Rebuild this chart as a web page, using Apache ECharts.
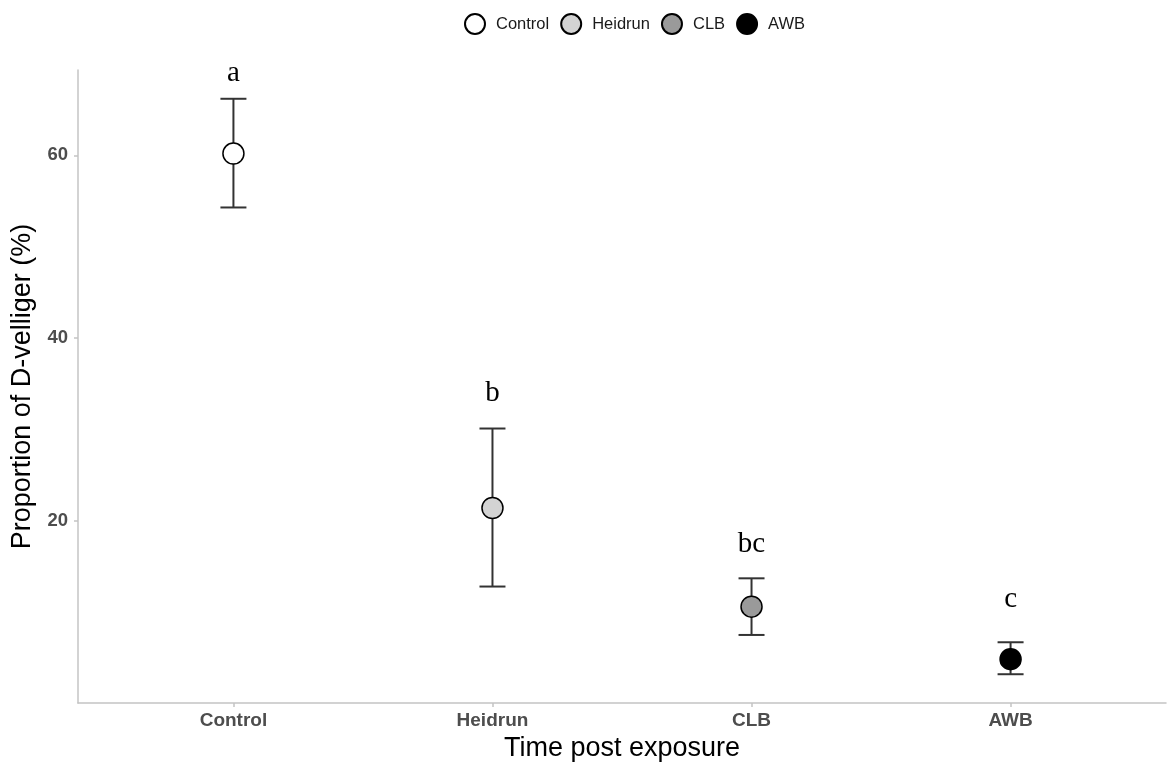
<!DOCTYPE html>
<html>
<head>
<meta charset="utf-8">
<script src="https://cdn.jsdelivr.net/npm/echarts@6/dist/echarts.min.js"></script>
<style>html,body{margin:0;padding:0;background:#fff;overflow:hidden;}#c{width:1167px;height:765px;}</style>
</head>
<body>
<div id="c"></div>
<script>
const categories = ['Control', 'Heidrun', 'CLB', 'AWB'];
const means = [60.2, 21.4, 10.6, 4.85];
const lower = [54.3, 12.8, 7.5, 3.2];
const upper = [66.2, 30.1, 13.7, 6.7];
const letters = ['a', 'b', 'bc', 'c'];
const letterY = [69.0, 33.9, 17.4, 11.4];
const fills = ['#ffffff', '#d3d3d3', '#9a9a9a', '#000000'];
const yTicks = [20, 40, 60];

const chart = echarts.init(document.getElementById('c'));
const xPos = categories.map((_, i) => i + 1);

const pointSeries = categories.map((name, i) => ({
  name: name,
  type: 'scatter',
  symbol: 'circle',
  symbolSize: 21,
  z: 5,
  itemStyle: { color: fills[i], borderColor: '#000', borderWidth: 1.5, opacity: 1 },
  emphasis: { disabled: true },
  data: [[xPos[i], means[i]]]
}));

const errorSeries = {
  type: 'custom',
  z: 3,
  silent: true,
  data: categories.map((_, i) => [xPos[i], lower[i], upper[i]]),
  renderItem: function (params, api) {
    const x = api.value(0);
    const lo = api.coord([x, api.value(1)]);
    const hi = api.coord([x, api.value(2)]);
    const hw = 13;
    const st = { stroke: '#333333', lineWidth: 2 };
    return {
      type: 'group',
      children: [
        { type: 'line', shape: { x1: lo[0], y1: lo[1], x2: hi[0], y2: hi[1] }, style: st },
        { type: 'line', shape: { x1: lo[0] - hw, y1: lo[1], x2: lo[0] + hw, y2: lo[1] }, style: st },
        { type: 'line', shape: { x1: hi[0] - hw, y1: hi[1], x2: hi[0] + hw, y2: hi[1] }, style: st }
      ]
    };
  }
};

const letterSeries = {
  type: 'custom',
  z: 4,
  silent: true,
  data: categories.map((_, i) => [xPos[i], letterY[i]]),
  renderItem: function (params, api) {
    const p = api.coord([api.value(0), api.value(1)]);
    return {
      type: 'text',
      x: p[0], y: p[1],
      style: {
        text: letters[params.dataIndex],
        fontFamily: '"Liberation Serif", "Times New Roman", serif',
        fontSize: 29,
        fill: '#000',
        align: 'center',
        verticalAlign: 'middle'
      }
    };
  }
};

chart.setOption({
  animation: false,
  backgroundColor: '#fff',
  legend: {
    top: 8,
    left: 459,
    itemWidth: 20,
    itemHeight: 20,
    itemGap: 11,
    icon: 'circle',
    data: categories,
    textStyle: { fontFamily: '"Liberation Sans", Arial, sans-serif', fontSize: 16.5, color: '#1a1a1a', padding: [0, 0, 0, 6] }
  },
  grid: { left: 78, right: 1, top: 70, bottom: 62, containLabel: false, outerBoundsMode: 'none' },
  xAxis: {
    type: 'value',
    min: 0.4,
    max: 4.6,
    name: 'Time post exposure',
    nameLocation: 'middle',
    nameGap: 30,
    nameTextStyle: { fontFamily: '"Liberation Sans", Arial, sans-serif', fontSize: 27, color: '#000' },
    axisLine: { show: true, lineStyle: { color: '#c4c4c4', width: 1.5 } },
    axisTick: { show: true, length: 4, lineStyle: { color: '#c4c4c4', width: 1.5 }, customValues: xPos },
    axisLabel: {
      customValues: xPos,
      formatter: v => categories[Math.round(v) - 1] || '',
      fontFamily: '"Liberation Sans", Arial, sans-serif',
      fontSize: 19, fontWeight: 'bold', color: '#4d4d4d', margin: 8
    },
    splitLine: { show: false }
  },
  yAxis: {
    type: 'value',
    min: 0.05,
    max: 69.35,
    name: 'Proportion of D-velliger (%)',
    nameLocation: 'middle',
    nameGap: 40,
    nameTextStyle: { fontFamily: '"Liberation Sans", Arial, sans-serif', fontSize: 27, color: '#000' },
    axisLine: { show: true, lineStyle: { color: '#c4c4c4', width: 1.5 } },
    axisTick: { show: true, length: 4, lineStyle: { color: '#c4c4c4', width: 1.5 }, customValues: yTicks },
    axisLabel: {
      customValues: yTicks,
      fontFamily: '"Liberation Sans", Arial, sans-serif',
      fontSize: 18.5, fontWeight: 'bold', color: '#4d4d4d', margin: 10
    },
    splitLine: { show: false }
  },
  series: [errorSeries].concat(pointSeries, [letterSeries])
});
</script>
</body>
</html>
